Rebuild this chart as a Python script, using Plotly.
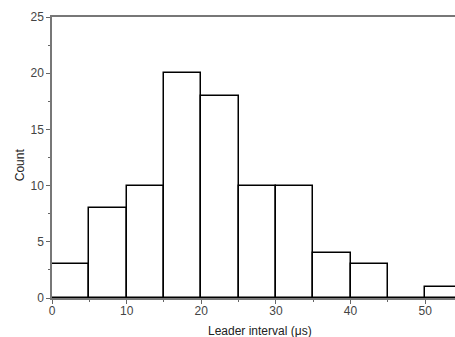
import plotly.graph_objects as go

bin_left = [0, 5, 10, 15, 20, 25, 30, 35, 40, 45, 50]
counts = [3, 8, 10, 20, 18, 10, 10, 4, 3, 0, 1]
bin_width = 5
x_title = "Leader interval (μs)"
y_title = "Count"

fig = go.Figure()
fig.add_trace(go.Bar(
    x=bin_left, y=counts, width=[bin_width] * len(bin_left), offset=0,
    marker=dict(color="white", line=dict(color="black", width=1.5)),
))

fam = "Liberation Sans, Arial, sans-serif"
axis_font = dict(family=fam, size=12, color="#444")
title_font = dict(family=fam, size=12, color="#222")
fig.update_layout(
    width=455, height=337,
    margin=dict(l=52, r=0, t=17, b=39),
    plot_bgcolor="white", paper_bgcolor="white",
    showlegend=False, bargap=0,
    xaxis=dict(
        range=[0, 54], tickvals=[0, 10, 20, 30, 40, 50], automargin=False,
        ticks="outside", ticklen=4, tickcolor="#666", tickfont=axis_font,
        ticklabelstandoff=-3,
        showline=True, linecolor="#777", linewidth=1.5, mirror=True,
        showgrid=False, zeroline=False,
        minor=dict(tickvals=[5, 15, 25, 35, 45], ticks="outside", ticklen=2, tickcolor="#666"),
    ),
    yaxis=dict(
        range=[0, 25], tickvals=[0, 5, 10, 15, 20, 25], automargin=False,
        ticks="outside", ticklen=4, tickcolor="#666", tickfont=axis_font,
        showline=True, linecolor="#777", linewidth=1.5,
        showgrid=False, zeroline=False,
        minor=dict(tickvals=[2.5, 7.5, 12.5, 17.5, 22.5], ticks="outside", ticklen=2, tickcolor="#666"),
    ),
    annotations=[
        dict(text=x_title, xref="paper", yref="paper", x=0.516, y=-0.117,
             xanchor="center", yanchor="middle", showarrow=False, font=title_font),
        dict(text=y_title, xref="paper", yref="paper", x=-0.079, y=0.473,
             xanchor="center", yanchor="middle", showarrow=False, textangle=-90, font=title_font),
    ],
)
fig.write_html("out.html")
